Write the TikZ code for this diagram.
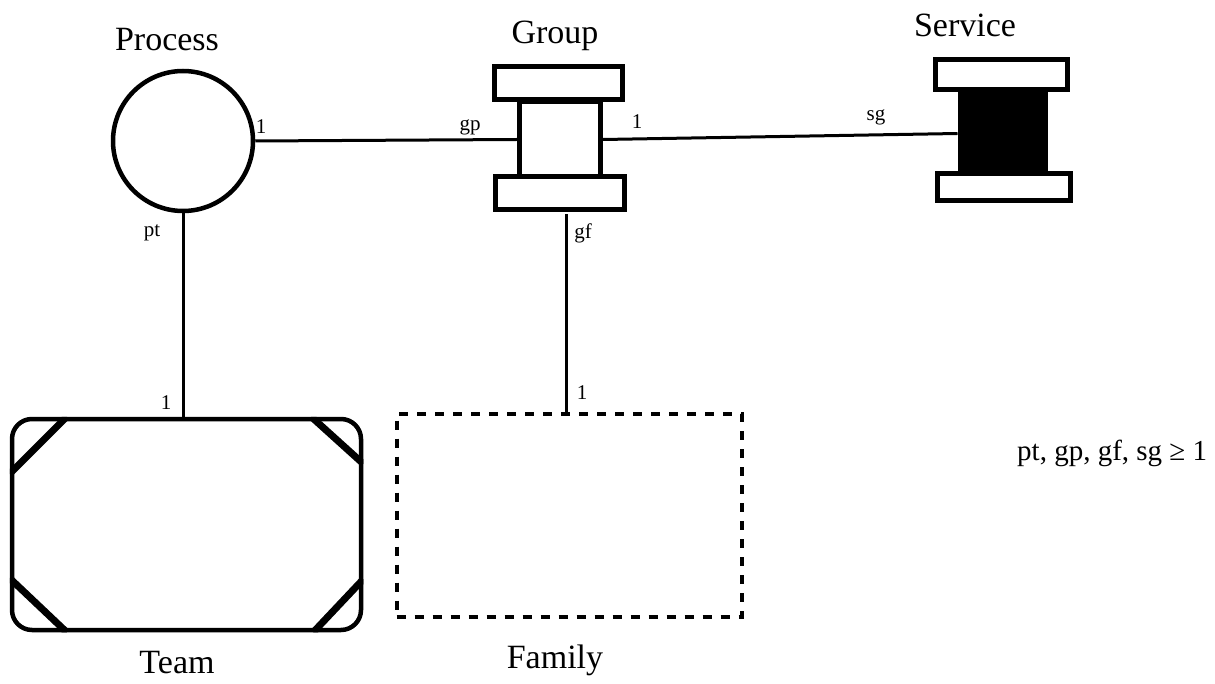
\documentclass[tikz,border=0pt]{standalone}
\usepackage{fontspec}
\setmainfont{Liberation Serif}
\usetikzlibrary{calc}
\begin{document}
\begin{tikzpicture}[x=1pt,y=-1pt,
  big/.style={font=\fontsize{34}{40}\selectfont, inner sep=0pt, anchor=base},
  small/.style={font=\fontsize{21}{24}\selectfont, inner sep=0pt},
  flange/.style={draw, line width=5pt, fill=white, inner sep=0pt},
  conn/.style={draw, line width=3pt},
  diag/.style={line width=7pt}
]
\useasboundingbox[fill=white] (0,0) rectangle (1215,684);

\node[draw, circle, line width=4.5pt, minimum size=140pt, inner sep=0pt] (P) at (183,141) {};
\node[flange, minimum width=81pt, minimum height=75pt] (Gm) at (560,139.5) {};
\node[flange, minimum width=128pt, minimum height=33pt] (Gu) at (558.5,83.5) {};
\node[flange, minimum width=129pt, minimum height=33pt] (Gl) at (560,193.5) {};

\node[flange, fill=black, minimum width=85pt, minimum height=80pt] (Sm) at (1002.5,133.5) {};
\node[flange, minimum width=132pt, minimum height=30pt] (Su) at (1001.5,75) {};
\node[flange, minimum width=133pt, minimum height=27pt] (Sl) at (1004,187.5) {};

\node[draw, line width=4.5pt, rounded corners=20pt, minimum width=349pt, minimum height=211pt, inner sep=0pt] (T) at (186.5,524.5) {};
\begin{scope}
\clip[rounded corners=20pt] (T.north west) rectangle (T.south east);
\draw[diag] ($(T.north west)+(57,0)$) -- ($(T.north west)+(0,57)$);
\draw[diag] ($(T.north east)+(-52,0)$) -- ($(T.north east)+(0,47)$);
\draw[diag] ($(T.south west)+(0,-54)$) -- ($(T.south west)+(57,0)$);
\draw[diag] ($(T.south east)+(-50,0)$) -- ($(T.south east)+(0,-53)$);
\end{scope}

\node[draw, line width=4pt, dash pattern=on 9pt off 9pt, minimum width=345pt, minimum height=203pt, inner sep=0pt] (F) at (569,515) {};

\draw[conn] (P.east) -- (Gm.west);
\draw[conn] (Gm.east) -- (Sm.west);
\draw[conn] (P.south) -- (P.south |- T.north);
\coordinate (gfTop) at ($(Gl.south)+(6,2)$);
\draw[conn] (gfTop) -- (gfTop |- F.north);

% titles
\node[big] (tP) at (167,51) {Process};
\node[big] (tG) at (555,44) {Group};
\node[big] (tS) at (965,37) {Service};
\node[big] (tT) at (177,673) {Team};
\node[big] (tF) at (555,668) {Family};
\node[big, anchor=base west, font=\fontsize{29}{34}\selectfont] (tC) at (1017,460) {pt, gp, gf, sg ≥ 1};

% cardinalities
\node[small] (c1) at (261,127) {1};
\node[small] (c2) at (470,127) {gp};
\node[small] (c3) at (637,122) {1};
\node[small] (c4) at (876,117) {sg};
\node[small] (c5) at (152,233) {pt};
\node[small] (c6) at (166,403) {1};
\node[small] (c7) at (583,233) {gf};
\node[small] (c8) at (582,393) {1};
\end{tikzpicture}
\end{document}
